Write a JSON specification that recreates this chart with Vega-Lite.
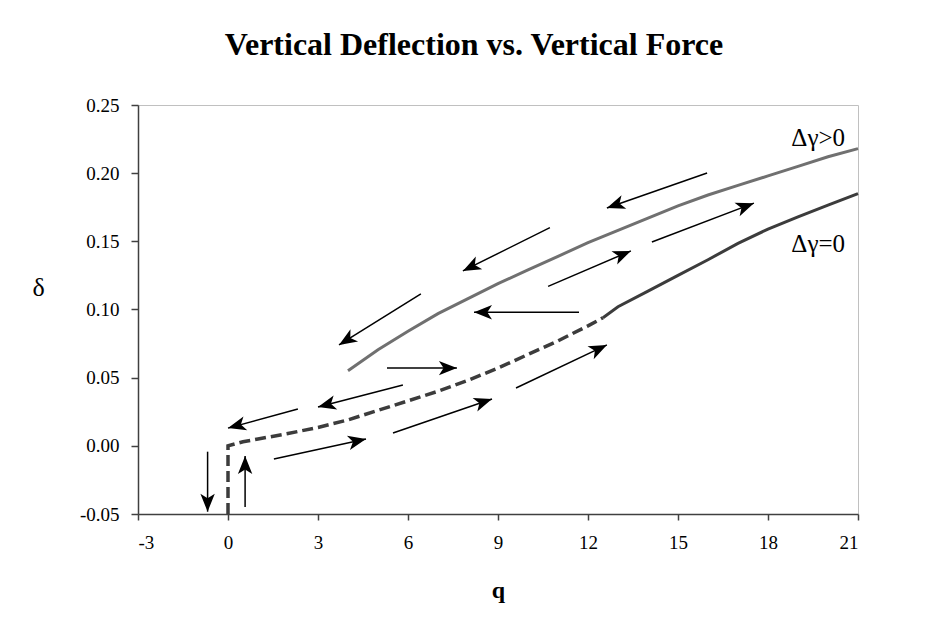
{
  "$schema": "https://vega.github.io/schema/vega-lite/v6.json",
  "width": 720,
  "height": 409,
  "autosize": {"type": "none"},
  "padding": {"left": 138, "top": 105, "right": 77, "bottom": 110},
  "background": "white",
  "title": {
    "text": "Vertical Deflection vs. Vertical Force",
    "font": "Liberation Serif",
    "fontSize": 32,
    "fontWeight": "bold",
    "color": "black",
    "anchor": "middle",
    "baseline": "alphabetic",
    "offset": 9,
    "dx": -24
  },
  "config": {
    "view": {"stroke": "#c0c0c0", "strokeWidth": 1},
    "font": "Liberation Serif"
  },
  "datasets": {
    "upper": [
      {"q": 4, "d": 0.055}, {"q": 5, "d": 0.0705}, {"q": 6, "d": 0.084}, {"q": 7, "d": 0.097},
      {"q": 8, "d": 0.108}, {"q": 9, "d": 0.119}, {"q": 10, "d": 0.129}, {"q": 11, "d": 0.139},
      {"q": 12, "d": 0.149}, {"q": 13, "d": 0.158}, {"q": 14, "d": 0.167}, {"q": 15, "d": 0.176},
      {"q": 16, "d": 0.184}, {"q": 17, "d": 0.191}, {"q": 18, "d": 0.198}, {"q": 19, "d": 0.205},
      {"q": 20, "d": 0.212}, {"q": 21, "d": 0.218}
    ],
    "lowerDashed": [
      {"i": 0, "q": 0, "d": -0.05}, {"i": 1, "q": 0, "d": 0.0}, {"i": 2, "q": 0.5, "d": 0.003},
      {"i": 3, "q": 1, "d": 0.005}, {"i": 4, "q": 2, "d": 0.009}, {"i": 5, "q": 3, "d": 0.0135},
      {"i": 6, "q": 4, "d": 0.019}, {"i": 7, "q": 5, "d": 0.026}, {"i": 8, "q": 6, "d": 0.033},
      {"i": 9, "q": 7, "d": 0.040}, {"i": 10, "q": 8, "d": 0.048}, {"i": 11, "q": 9, "d": 0.057},
      {"i": 12, "q": 10, "d": 0.067}, {"i": 13, "q": 11, "d": 0.077}, {"i": 14, "q": 12, "d": 0.088},
      {"i": 15, "q": 12.5, "d": 0.094}
    ],
    "lowerSolid": [
      {"q": 12.5, "d": 0.094}, {"q": 13, "d": 0.102}, {"q": 14, "d": 0.1135}, {"q": 15, "d": 0.125},
      {"q": 16, "d": 0.1365}, {"q": 17, "d": 0.1485}, {"q": 18, "d": 0.159}, {"q": 19, "d": 0.168},
      {"q": 20, "d": 0.1765}, {"q": 21, "d": 0.185}
    ],
    "arrows": [
      {"q": -0.68, "d": -0.0043, "q2": -0.68, "d2": -0.0483},
      {"q": 0.57, "d": -0.0449, "q2": 0.57, "d2": -0.0075},
      {"q": 1.53, "d": -0.0097, "q2": 4.6, "d2": 0.005},
      {"q": 2.33, "d": 0.027, "q2": 0.0, "d2": 0.013},
      {"q": 5.83, "d": 0.0446, "q2": 3.0, "d2": 0.0285},
      {"q": 5.5, "d": 0.0094, "q2": 8.8, "d2": 0.0344},
      {"q": 5.3, "d": 0.057, "q2": 7.63, "d2": 0.057},
      {"q": 9.6, "d": 0.0424, "q2": 12.63, "d2": 0.074},
      {"q": 11.7, "d": 0.098, "q2": 8.2, "d2": 0.098},
      {"q": 10.67, "d": 0.117, "q2": 13.43, "d2": 0.143},
      {"q": 14.13, "d": 0.1495, "q2": 17.53, "d2": 0.178},
      {"q": 15.97, "d": 0.2001, "q2": 12.63, "d2": 0.1745},
      {"q": 10.73, "d": 0.16, "q2": 7.83, "d2": 0.1283},
      {"q": 6.43, "d": 0.1114, "q2": 3.7, "d2": 0.074}
    ],
    "labels": [
      {"q": 20.57, "d": 0.2258, "label": "Δγ>0"},
      {"q": 20.57, "d": 0.148, "label": "Δγ=0"}
    ]
  },
  "layer": [
    {
      "data": {"name": "upper"},
      "mark": {"type": "line", "color": "#707070", "strokeWidth": 3},
      "encoding": {
        "x": {
          "field": "q", "type": "quantitative",
          "scale": {"domain": [-3, 21], "nice": false, "zero": false},
          "axis": {
            "title": "q",
            "values": [-3, 0, 3, 6, 9, 12, 15, 18, 21],
            "labelExpr": "replace(format(datum.value, 'd'), '\u2212', '-')",
            "grid": false,
            "domainColor": "#404040", "domainWidth": 1.5,
            "tickColor": "#404040", "tickWidth": 1.5, "tickSize": 6,
            "labelFont": "Liberation Serif", "labelFontSize": 19, "labelColor": "black",
            "labelPadding": 13,
            "titleFont": "Liberation Serif", "titleFontSize": 24, "titleFontWeight": "bold", "titleColor": "black",
            "titleX": 360, "titleY": 76, "titleBaseline": "middle", "titleAlign": "center"
          }
        },
        "y": {
          "field": "d", "type": "quantitative",
          "scale": {"domain": [-0.05, 0.25], "nice": false, "zero": false},
          "axis": {
            "title": "δ",
            "values": [-0.05, 0, 0.05, 0.1, 0.15, 0.2, 0.25],
            "labelExpr": "replace(format(datum.value, '.2f'), '\u2212', '-')",
            "grid": false,
            "domainColor": "#404040", "domainWidth": 1.5,
            "tickColor": "#404040", "tickWidth": 1.5, "tickSize": 7,
            "labelFont": "Liberation Serif", "labelFontSize": 19, "labelColor": "black",
            "labelPadding": 12,
            "titleFont": "Liberation Serif", "titleFontSize": 26, "titleFontWeight": "normal", "titleColor": "black",
            "titleAngle": 0, "titleX": -100, "titleY": 182, "titleBaseline": "middle", "titleAlign": "center"
          }
        }
      }
    },
    {
      "data": {"name": "lowerDashed"},
      "mark": {"type": "line", "color": "#3c3c3c", "strokeWidth": 3.5, "strokeDash": [11, 5]},
      "encoding": {
        "x": {"field": "q", "type": "quantitative"},
        "y": {"field": "d", "type": "quantitative"},
        "order": {"field": "i", "type": "quantitative"}
      }
    },
    {
      "data": {"name": "lowerSolid"},
      "mark": {"type": "line", "color": "#3c3c3c", "strokeWidth": 3},
      "encoding": {
        "x": {"field": "q", "type": "quantitative"},
        "y": {"field": "d", "type": "quantitative"}
      }
    },
    {
      "data": {"name": "arrows"},
      "mark": {"type": "rule", "color": "black", "strokeWidth": 1.5},
      "encoding": {
        "x": {"field": "q", "type": "quantitative"},
        "y": {"field": "d", "type": "quantitative"},
        "x2": {"field": "q2"},
        "y2": {"field": "d2"}
      }
    },
    {
      "data": {"name": "arrows"},
      "transform": [
        {"calculate": "atan2((datum.q2 - datum.q) * 30, (datum.d2 - datum.d) * 1363.3) * 180 / PI", "as": "heading"}
      ],
      "mark": {
        "type": "point",
        "shape": "M0,0L0.4,1L0,0.74L-0.4,1Z",
        "filled": true,
        "color": "black",
        "opacity": 1,
        "size": 1296,
        "strokeWidth": 0
      },
      "encoding": {
        "x": {"field": "q2", "type": "quantitative"},
        "y": {"field": "d2", "type": "quantitative"},
        "angle": {"field": "heading", "type": "quantitative", "scale": null}
      }
    },
    {
      "data": {"name": "labels"},
      "mark": {"type": "text", "font": "Liberation Serif", "fontSize": 25, "align": "right", "baseline": "middle", "color": "black"},
      "encoding": {
        "x": {"field": "q", "type": "quantitative"},
        "y": {"field": "d", "type": "quantitative"},
        "text": {"field": "label"}
      }
    }
  ]
}
